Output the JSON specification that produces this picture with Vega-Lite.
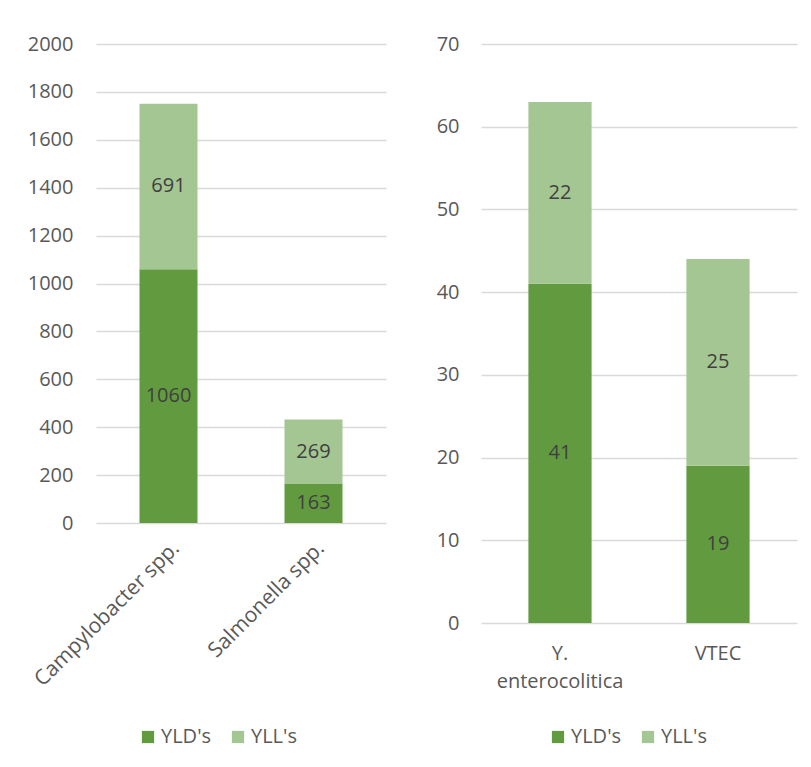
{
  "$schema": "https://vega.github.io/schema/vega-lite/v6.json",
  "padding": {"left": 27, "top": 34, "right": 5, "bottom": 5},
  "background": "white",
  "spacing": 50,
  "config": {
    "view": {"stroke": null},
    "font": "Open Sans",
    "axis": {"labelFont": "Open Sans", "labelFontSize": 20, "labelColor": "#595959", "title": null},
    "legend": {"labelFont": "Open Sans", "labelFontSize": 20, "labelColor": "#595959"}
  },
  "resolve": {"scale": {"color": "independent", "y": "independent", "x": "independent"}, "legend": {"color": "independent"}},
  "hconcat": [
    {
      "width": 290,
      "height": 479,
      "data": {"values": [
        {"pathogen": "Campylobacter spp.", "measure": "YLD's", "value": 1060},
        {"pathogen": "Campylobacter spp.", "measure": "YLL's", "value": 691},
        {"pathogen": "Salmonella spp.", "measure": "YLD's", "value": 163},
        {"pathogen": "Salmonella spp.", "measure": "YLL's", "value": 269}
      ]},
      "encoding": {
        "x": {"field": "pathogen", "type": "nominal", "sort": null,
          "scale": {"paddingInner": 0.6, "paddingOuter": 0.3},
          "axis": {"labelAngle": -45, "labelFontSize": 21, "ticks": false, "domain": false, "labelPadding": 14, "labelLimit": 300}},
        "y": {"field": "value", "type": "quantitative", "stack": "zero",
          "scale": {"domain": [0, 2000], "nice": false},
          "axis": {"values": [0,200,400,600,800,1000,1200,1400,1600,1800,2000], "format": "d", "ticks": false, "domain": false, "labelPadding": 23, "gridColor": "#d9d9d9", "gridWidth": 1.5}},
        "order": {"field": "measure", "sort": "ascending"}
      },
      "layer": [
        {
          "mark": {"type": "bar"},
          "encoding": {
            "color": {"field": "measure", "type": "nominal",
              "scale": {"domain": ["YLD's", "YLL's"], "range": ["#629B3F", "#A4C692"]},
              "legend": {"title": null, "orient": "none", "direction": "horizontal", "legendX": 42, "legendY": 683, "symbolType": "square", "symbolSize": 150, "symbolStrokeWidth": 0, "columnPadding": 16, "labelOffset": 3}}
          }
        },
        {
          "mark": {"type": "text", "fontSize": 20, "color": "#404040", "font": "Open Sans"},
          "encoding": {
            "y": {"field": "value", "type": "quantitative", "stack": "zero", "bandPosition": 0.5},
            "text": {"field": "value", "type": "quantitative"},
            "detail": {"field": "measure"}
          }
        }
      ]
    },
    {
      "width": 316,
      "height": 579,
      "data": {"values": [
        {"pathogen": "Y. enterocolitica", "measure": "YLD's", "value": 41},
        {"pathogen": "Y. enterocolitica", "measure": "YLL's", "value": 22},
        {"pathogen": "VTEC", "measure": "YLD's", "value": 19},
        {"pathogen": "VTEC", "measure": "YLL's", "value": 25}
      ]},
      "encoding": {
        "x": {"field": "pathogen", "type": "nominal", "sort": null,
          "scale": {"paddingInner": 0.6, "paddingOuter": 0.3},
          "axis": {"labelAngle": 0, "ticks": false, "domain": false, "labelPadding": 20, "labelLineHeight": 28, "labelExpr": "split(datum.label, ' ')"}},
        "y": {"field": "value", "type": "quantitative", "stack": "zero",
          "scale": {"domain": [0, 70], "nice": false},
          "axis": {"values": [0,10,20,30,40,50,60,70], "ticks": false, "domain": false, "labelPadding": 22, "gridColor": "#d9d9d9", "gridWidth": 1.5}},
        "order": {"field": "measure", "sort": "ascending"}
      },
      "layer": [
        {
          "mark": {"type": "bar"},
          "encoding": {
            "color": {"field": "measure", "type": "nominal",
              "scale": {"domain": ["YLD's", "YLL's"], "range": ["#629B3F", "#A4C692"]},
              "legend": {"title": null, "orient": "none", "direction": "horizontal", "legendX": 67, "legendY": 683, "symbolType": "square", "symbolSize": 150, "symbolStrokeWidth": 0, "columnPadding": 16, "labelOffset": 3}}
          }
        },
        {
          "mark": {"type": "text", "fontSize": 20, "color": "#404040", "font": "Open Sans"},
          "encoding": {
            "y": {"field": "value", "type": "quantitative", "stack": "zero", "bandPosition": 0.5},
            "text": {"field": "value", "type": "quantitative"},
            "detail": {"field": "measure"}
          }
        }
      ]
    }
  ]
}
